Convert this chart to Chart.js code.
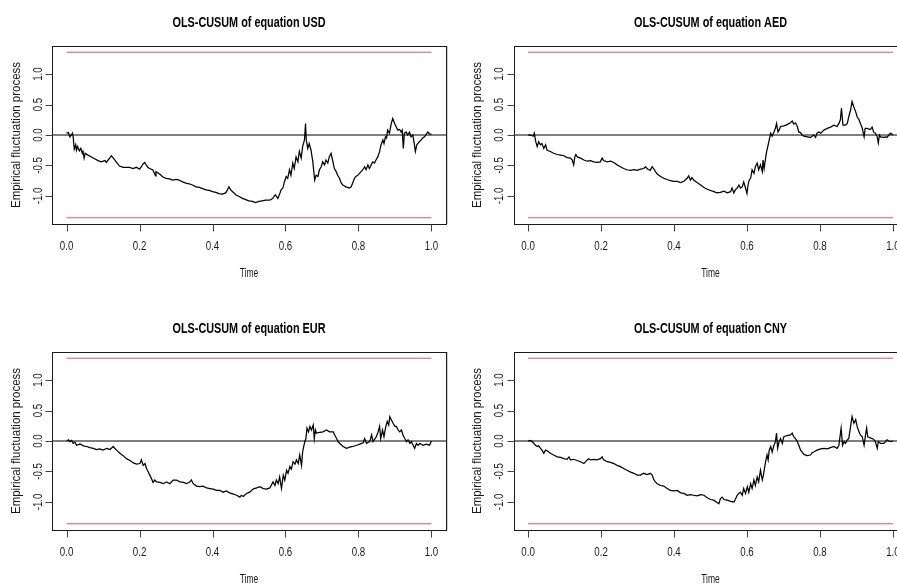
<!DOCTYPE html>
<html>
<head>
<meta charset="utf-8">
<script src="https://cdn.jsdelivr.net/npm/chart.js@4/dist/chart.umd.min.js"></script>
<style>
  html, body { margin: 0; padding: 0; background: #fff; width: 897px; height: 585px; overflow: hidden; }
  canvas { position: absolute; }
  .sep { position: absolute; left: 447px; width: 1px; height: 178px; background: #d0d0d0; }
</style>
</head>
<body>
<canvas id="cUSD" width="448" height="295" style="left:0;top:0"></canvas>
<canvas id="cAED" width="470" height="295" style="left:448px;top:0"></canvas>
<canvas id="cEUR" width="448" height="295" style="left:0;top:295px"></canvas>
<canvas id="cCNY" width="470" height="295" style="left:448px;top:295px"></canvas>
<div class="sep" style="top:46px"></div>
<div class="sep" style="top:352px"></div>
<script>
// ---------- data ----------
const titles = ['OLS-CUSUM of equation USD', 'OLS-CUSUM of equation AED', 'OLS-CUSUM of equation EUR', 'OLS-CUSUM of equation CNY'];
const xAxisTitle = 'Time';
const yAxisTitle = 'Empirical fluctuation process';
const xTickValues = [0, 0.2, 0.4, 0.6, 0.8, 1.0];
const xTickLabels = ['0.0', '0.2', '0.4', '0.6', '0.8', '1.0'];
const yTickValues = [-1, -0.5, 0, 0.5, 1];
const yTickLabels = ['-1.0', '-0.5', '0.0', '0.5', '1.0'];
const boundaryTime = [0, 1];
const upperBoundary = [1.358, 1.358];
const lowerBoundary = [-1.358, -1.358];

const usdTime = [0,0.005,0.009,0.014,0.016,0.018,0.021,0.025,0.027,0.03,0.035,0.039,0.043,0.045,0.048,0.051,0.059,0.068,0.077,0.086,0.095,0.105,0.109,0.114,0.118,0.123,0.127,0.136,0.145,0.155,0.164,0.173,0.182,0.191,0.2,0.205,0.209,0.214,0.218,0.223,0.227,0.236,0.241,0.244,0.245,0.255,0.264,0.273,0.282,0.291,0.3,0.309,0.318,0.327,0.336,0.345,0.355,0.364,0.373,0.382,0.391,0.4,0.409,0.418,0.427,0.436,0.441,0.445,0.45,0.455,0.464,0.473,0.482,0.491,0.5,0.509,0.518,0.527,0.536,0.545,0.555,0.56,0.565,0.572,0.579,0.585,0.588,0.593,0.597,0.602,0.606,0.611,0.615,0.62,0.624,0.629,0.634,0.638,0.643,0.647,0.652,0.655,0.657,0.661,0.665,0.67,0.675,0.68,0.684,0.689,0.693,0.698,0.702,0.707,0.711,0.716,0.72,0.725,0.729,0.734,0.739,0.743,0.748,0.753,0.757,0.766,0.775,0.78,0.784,0.789,0.793,0.798,0.803,0.812,0.817,0.821,0.826,0.83,0.835,0.839,0.844,0.848,0.853,0.858,0.862,0.867,0.87,0.874,0.877,0.88,0.885,0.89,0.894,0.899,0.903,0.908,0.913,0.917,0.92,0.923,0.926,0.931,0.935,0.94,0.944,0.949,0.953,0.956,0.96,0.967,0.972,0.976,0.981,0.985,0.99,0.995,1.0];
const usdValue = [0.03,0.04,-0.03,0.01,0.03,-0.03,-0.23,-0.16,-0.25,-0.19,-0.26,-0.22,-0.3,-0.27,-0.38,-0.3,-0.33,-0.36,-0.39,-0.42,-0.44,-0.42,-0.45,-0.41,-0.38,-0.34,-0.37,-0.44,-0.51,-0.53,-0.53,-0.53,-0.55,-0.53,-0.56,-0.52,-0.48,-0.45,-0.49,-0.53,-0.55,-0.57,-0.63,-0.67,-0.6,-0.64,-0.69,-0.71,-0.72,-0.74,-0.73,-0.74,-0.77,-0.79,-0.8,-0.82,-0.85,-0.86,-0.88,-0.9,-0.91,-0.93,-0.94,-0.96,-0.97,-0.95,-0.9,-0.85,-0.9,-0.93,-0.98,-1.01,-1.04,-1.06,-1.08,-1.09,-1.11,-1.09,-1.08,-1.07,-1.07,-1.06,-1.04,-0.98,-1.04,-0.95,-0.9,-0.87,-0.77,-0.68,-0.71,-0.57,-0.66,-0.46,-0.55,-0.36,-0.44,-0.27,-0.38,-0.19,-0.08,0.19,-0.08,-0.22,-0.14,-0.25,-0.44,-0.74,-0.66,-0.68,-0.57,-0.52,-0.44,-0.49,-0.41,-0.46,-0.36,-0.3,-0.41,-0.55,-0.6,-0.66,-0.71,-0.79,-0.82,-0.85,-0.87,-0.85,-0.79,-0.71,-0.68,-0.66,-0.63,-0.57,-0.52,-0.57,-0.49,-0.55,-0.49,-0.44,-0.46,-0.41,-0.36,-0.27,-0.16,-0.08,-0.14,-0.03,-0.05,0.08,0.03,0.19,0.27,0.19,0.14,0.08,0.09,0.05,0.08,-0.22,0.03,0.05,0.0,0.05,-0.03,0.0,-0.14,-0.27,-0.16,-0.11,-0.08,-0.05,-0.03,0.0,0.05,0.02,0.01];

const aedTime = [0,0.007,0.014,0.017,0.021,0.025,0.029,0.034,0.038,0.043,0.048,0.052,0.061,0.07,0.08,0.089,0.098,0.107,0.116,0.121,0.125,0.128,0.131,0.135,0.144,0.153,0.162,0.171,0.18,0.189,0.198,0.203,0.207,0.217,0.226,0.235,0.244,0.253,0.262,0.271,0.281,0.29,0.299,0.308,0.317,0.322,0.326,0.331,0.335,0.34,0.344,0.349,0.354,0.363,0.372,0.381,0.39,0.399,0.409,0.418,0.427,0.436,0.44,0.445,0.449,0.454,0.463,0.473,0.482,0.491,0.5,0.509,0.518,0.527,0.537,0.546,0.555,0.559,0.564,0.568,0.573,0.578,0.582,0.587,0.591,0.596,0.6,0.603,0.606,0.61,0.614,0.619,0.623,0.628,0.632,0.637,0.642,0.644,0.647,0.651,0.654,0.657,0.661,0.665,0.669,0.674,0.678,0.681,0.685,0.688,0.692,0.701,0.71,0.719,0.724,0.728,0.733,0.738,0.742,0.747,0.751,0.756,0.765,0.774,0.783,0.788,0.792,0.797,0.802,0.811,0.82,0.829,0.838,0.847,0.852,0.856,0.859,0.863,0.87,0.875,0.879,0.884,0.888,0.893,0.898,0.902,0.907,0.911,0.916,0.921,0.924,0.929,0.938,0.943,0.947,0.952,0.957,0.96,0.963,0.966,0.975,0.98,0.984,0.989,0.994,1.0];
const aedValue = [0,0,-0.02,0.03,-0.11,-0.19,-0.11,-0.16,-0.14,-0.22,-0.16,-0.25,-0.27,-0.3,-0.32,-0.33,-0.34,-0.37,-0.38,-0.41,-0.49,-0.36,-0.32,-0.36,-0.38,-0.41,-0.43,-0.42,-0.44,-0.45,-0.44,-0.38,-0.42,-0.44,-0.43,-0.45,-0.49,-0.52,-0.55,-0.57,-0.58,-0.57,-0.58,-0.56,-0.55,-0.52,-0.55,-0.57,-0.58,-0.52,-0.55,-0.6,-0.64,-0.68,-0.71,-0.73,-0.75,-0.76,-0.76,-0.78,-0.76,-0.71,-0.67,-0.74,-0.7,-0.74,-0.78,-0.82,-0.86,-0.89,-0.91,-0.93,-0.95,-0.94,-0.92,-0.95,-0.93,-0.87,-0.95,-0.9,-0.87,-0.82,-0.87,-0.85,-0.77,-0.87,-0.96,-0.82,-0.74,-0.71,-0.57,-0.63,-0.52,-0.46,-0.57,-0.49,-0.6,-0.41,-0.55,-0.38,-0.27,-0.19,-0.08,0.03,-0.02,0.05,0.11,0.19,0.05,0.08,0.14,0.15,0.17,0.2,0.23,0.18,0.2,0.14,0.05,0.04,0.0,-0.02,-0.03,-0.04,0.0,-0.04,0.03,0.05,0.03,0.08,0.11,0.13,0.16,0.14,0.19,0.25,0.44,0.16,0.16,0.19,0.3,0.41,0.55,0.46,0.38,0.3,0.25,0.19,0.11,-0.03,0.11,0.11,0.09,0.13,0.05,0.03,-0.03,-0.13,0.0,-0.03,-0.04,-0.03,-0.04,0.0,0.03,0.0];

const eurTime = [0,0.005,0.009,0.014,0.018,0.023,0.027,0.037,0.046,0.055,0.064,0.073,0.082,0.091,0.1,0.11,0.119,0.128,0.132,0.137,0.146,0.155,0.164,0.174,0.183,0.192,0.201,0.205,0.21,0.215,0.219,0.224,0.228,0.233,0.237,0.242,0.247,0.256,0.265,0.274,0.283,0.292,0.301,0.311,0.32,0.329,0.338,0.342,0.347,0.356,0.365,0.374,0.384,0.393,0.402,0.411,0.42,0.429,0.438,0.447,0.457,0.466,0.475,0.479,0.484,0.493,0.502,0.511,0.521,0.53,0.539,0.548,0.557,0.566,0.571,0.575,0.58,0.584,0.589,0.594,0.598,0.603,0.607,0.612,0.616,0.621,0.626,0.63,0.635,0.639,0.644,0.647,0.65,0.653,0.656,0.659,0.663,0.667,0.671,0.676,0.679,0.682,0.685,0.694,0.703,0.712,0.721,0.731,0.735,0.74,0.744,0.749,0.758,0.767,0.776,0.785,0.795,0.804,0.813,0.817,0.822,0.831,0.836,0.84,0.849,0.854,0.858,0.861,0.866,0.87,0.875,0.879,0.883,0.886,0.89,0.895,0.9,0.904,0.909,0.913,0.918,0.922,0.927,0.932,0.936,0.941,0.945,0.95,0.954,0.959,0.963,0.968,0.977,0.986,0.995,1.0];
const eurValue = [0,0.02,-0.01,0.01,-0.04,-0.02,-0.07,-0.05,-0.08,-0.09,-0.11,-0.12,-0.14,-0.13,-0.15,-0.12,-0.14,-0.09,-0.12,-0.15,-0.2,-0.24,-0.29,-0.32,-0.36,-0.38,-0.37,-0.31,-0.4,-0.37,-0.45,-0.51,-0.56,-0.62,-0.68,-0.64,-0.67,-0.68,-0.7,-0.67,-0.7,-0.64,-0.64,-0.67,-0.68,-0.7,-0.67,-0.64,-0.7,-0.74,-0.75,-0.74,-0.77,-0.78,-0.79,-0.81,-0.81,-0.84,-0.82,-0.85,-0.87,-0.89,-0.92,-0.89,-0.91,-0.86,-0.84,-0.79,-0.77,-0.75,-0.78,-0.79,-0.77,-0.67,-0.73,-0.64,-0.7,-0.59,-0.78,-0.56,-0.64,-0.48,-0.53,-0.42,-0.46,-0.34,-0.38,-0.31,-0.37,-0.23,-0.4,-0.18,-0.09,-0.01,0.04,0.21,0.15,0.24,0.18,0.26,0.04,0.18,0.13,0.14,0.15,0.18,0.15,0.15,0.1,0.04,-0.01,-0.04,-0.09,-0.12,-0.1,-0.09,-0.07,-0.05,-0.03,0.04,-0.04,-0.01,0.1,-0.01,0.07,0.15,0.24,0.04,0.18,0.07,0.24,0.32,0.26,0.4,0.35,0.29,0.24,0.24,0.18,0.15,0.18,0.1,0.04,-0.01,0.02,-0.04,-0.01,-0.07,-0.12,-0.04,-0.07,-0.04,-0.07,-0.05,-0.07,0.0];

const cnyTime = [0,0.006,0.011,0.016,0.02,0.025,0.029,0.034,0.038,0.043,0.048,0.052,0.061,0.07,0.08,0.089,0.098,0.107,0.112,0.116,0.125,0.134,0.144,0.153,0.162,0.166,0.171,0.18,0.189,0.198,0.203,0.207,0.217,0.226,0.235,0.244,0.253,0.262,0.271,0.281,0.29,0.299,0.308,0.317,0.326,0.335,0.34,0.345,0.349,0.354,0.363,0.372,0.381,0.39,0.399,0.409,0.418,0.427,0.436,0.445,0.454,0.463,0.473,0.482,0.491,0.5,0.509,0.518,0.523,0.527,0.532,0.537,0.546,0.555,0.564,0.568,0.573,0.578,0.582,0.587,0.591,0.596,0.601,0.605,0.61,0.614,0.619,0.623,0.628,0.632,0.637,0.642,0.645,0.648,0.651,0.655,0.658,0.661,0.665,0.669,0.674,0.678,0.681,0.684,0.688,0.692,0.697,0.701,0.71,0.719,0.724,0.728,0.733,0.738,0.742,0.747,0.751,0.756,0.765,0.774,0.779,0.783,0.792,0.802,0.811,0.82,0.829,0.838,0.847,0.852,0.858,0.862,0.866,0.87,0.875,0.879,0.884,0.888,0.893,0.898,0.902,0.907,0.911,0.916,0.921,0.925,0.928,0.931,0.938,0.947,0.952,0.957,0.96,0.966,0.975,0.98,0.984,0.989,0.994,1.0];
const cnyValue = [0,0.01,-0.01,-0.04,-0.07,-0.09,-0.08,-0.12,-0.15,-0.2,-0.15,-0.16,-0.2,-0.23,-0.26,-0.27,-0.29,-0.3,-0.26,-0.31,-0.3,-0.32,-0.34,-0.37,-0.31,-0.29,-0.31,-0.3,-0.31,-0.29,-0.26,-0.31,-0.34,-0.35,-0.37,-0.4,-0.42,-0.45,-0.48,-0.51,-0.53,-0.56,-0.56,-0.53,-0.55,-0.53,-0.56,-0.64,-0.67,-0.7,-0.73,-0.74,-0.78,-0.81,-0.82,-0.81,-0.85,-0.86,-0.89,-0.88,-0.89,-0.9,-0.88,-0.89,-0.93,-0.96,-0.97,-1.01,-1.03,-0.95,-0.92,-0.96,-0.97,-0.99,-1.0,-0.96,-0.89,-0.86,-0.84,-0.89,-0.78,-0.86,-0.75,-0.84,-0.7,-0.78,-0.64,-0.73,-0.59,-0.67,-0.48,-0.64,-0.56,-0.45,-0.34,-0.23,-0.31,-0.15,-0.09,-0.18,-0.07,-0.01,0.13,-0.12,-0.01,0.04,-0.04,0.07,0.09,0.1,0.13,0.07,0.04,-0.01,-0.07,-0.15,-0.18,-0.22,-0.24,-0.23,-0.19,-0.18,-0.15,-0.13,-0.12,-0.13,-0.11,-0.09,-0.12,-0.07,0.21,-0.07,-0.01,-0.04,0.02,0.04,0.24,0.4,0.29,0.35,0.24,0.15,0.1,0.07,-0.07,0.1,0.21,0.07,0.05,0.03,-0.01,-0.12,-0.01,-0.04,-0.04,-0.01,0.02,0.0,-0.01,0.0];

// ---------- styling / layout (not data) ----------
const FONT = '"Liberation Sans", Arial, sans-serif';
const RED = '#DF536B';
const widths = { title: 153, tick: 13.5, time: 18.5, ytitle: 146 }; // measured text extents in the reference

function pts(xs, ys) { return xs.map((x, i) => ({ x: x, y: ys[i] })); }

function drawText(ctx, s, x, y, font, k, rot, align, baseline, color) {
  ctx.save();
  ctx.font = font;
  ctx.fillStyle = color;
  ctx.textAlign = align;
  ctx.textBaseline = baseline;
  ctx.translate(x, y);
  if (rot) ctx.rotate(rot);
  ctx.scale(k, 1);
  ctx.fillText(s, 0, 0);
  ctx.restore();
}

const decor = {
  id: 'rdecor',
  afterDraw(chart) {
    const ctx = chart.ctx, a = chart.chartArea;
    const xs = chart.scales.x, ys = chart.scales.y;
    const titleFont = 'bold 15px ' + FONT, tickFont = '12px ' + FONT;
    ctx.save();
    ctx.font = titleFont; const kTitle = widths.title / ctx.measureText(titles[0]).width;
    ctx.font = tickFont;
    const kTick = widths.tick / ctx.measureText('0.0').width;
    const kTime = widths.time / ctx.measureText(xAxisTitle).width;
    const kY = widths.ytitle / ctx.measureText(yAxisTitle).width;
    ctx.restore();

    const L = Math.round(a.left) + 0.5, R = Math.round(a.right) + 0.5;
    const T = Math.round(a.top) + 0.5, B = Math.round(a.bottom) + 0.5;
    ctx.save();
    ctx.strokeStyle = '#1a1a1a';
    ctx.lineWidth = 1;
    ctx.strokeRect(L, T, R - L, B - T);
    ctx.strokeStyle = '#444';
    ctx.beginPath();
    xTickValues.forEach(v => {
      const px = Math.round(xs.getPixelForValue(v)) + 0.5;
      ctx.moveTo(px, B); ctx.lineTo(px, B + 7);
    });
    yTickValues.forEach(v => {
      const py = Math.round(ys.getPixelForValue(v)) + 0.5;
      ctx.moveTo(L, py); ctx.lineTo(L - 7, py);
    });
    ctx.stroke();
    ctx.restore();

    xTickValues.forEach((v, i) => {
      drawText(ctx, xTickLabels[i], xs.getPixelForValue(v), a.bottom + 26, tickFont, kTick, 0, 'center', 'alphabetic', '#1a1a1a');
    });
    yTickValues.forEach((v, i) => {
      drawText(ctx, yTickLabels[i], a.left - 10.5, ys.getPixelForValue(v), tickFont, kTick, -Math.PI / 2, 'center', 'alphabetic', '#1a1a1a');
    });
    const cx = (xs.getPixelForValue(0) + xs.getPixelForValue(1)) / 2;
    drawText(ctx, chart.options.plugins.rdecor.title, cx, a.top - 19.5, titleFont, kTitle, 0, 'center', 'alphabetic', '#000');
    drawText(ctx, xAxisTitle, cx, a.bottom + 53, tickFont, kTime, 0, 'center', 'alphabetic', '#1a1a1a');
    drawText(ctx, yAxisTitle, a.left - 32.5, (a.top + a.bottom) / 2, tickFont, kY, -Math.PI / 2, 'center', 'alphabetic', '#1a1a1a');
  }
};

function makePanel(id, title, times, values, pad) {
  new Chart(document.getElementById(id), {
    type: 'line',
    data: {
      datasets: [
        { data: pts(times, values), borderColor: '#000', borderWidth: 1.25, pointRadius: 0, tension: 0 },
        { data: pts(boundaryTime, upperBoundary), borderColor: RED, borderWidth: 1, pointRadius: 0 },
        { data: pts(boundaryTime, lowerBoundary), borderColor: RED, borderWidth: 1, pointRadius: 0 },
        { data: pts([-0.04, 1.04], [0, 0]), borderColor: '#000', borderWidth: 1, pointRadius: 0 }
      ]
    },
    options: {
      responsive: false, animation: false, devicePixelRatio: 1,
      layout: { padding: pad },
      plugins: { legend: { display: false }, title: { display: false }, tooltip: { enabled: false }, rdecor: { title: title } },
      scales: {
        x: { type: 'linear', min: -0.04, max: 1.04, display: false },
        y: { type: 'linear', min: -1.46, max: 1.46, display: false }
      }
    },
    plugins: [decor]
  });
}

makePanel('cUSD', titles[0], usdTime, usdValue, { left: 52, top: 46, right: 2, bottom: 71 });
makePanel('cAED', titles[1], aedTime, aedValue, { left: 65.5, top: 46, right: 10.5, bottom: 71 });
makePanel('cEUR', titles[2], eurTime, eurValue, { left: 52, top: 57, right: 2, bottom: 60 });
makePanel('cCNY', titles[3], cnyTime, cnyValue, { left: 65.5, top: 57, right: 10.5, bottom: 60 });
</script>
</body>
</html>
